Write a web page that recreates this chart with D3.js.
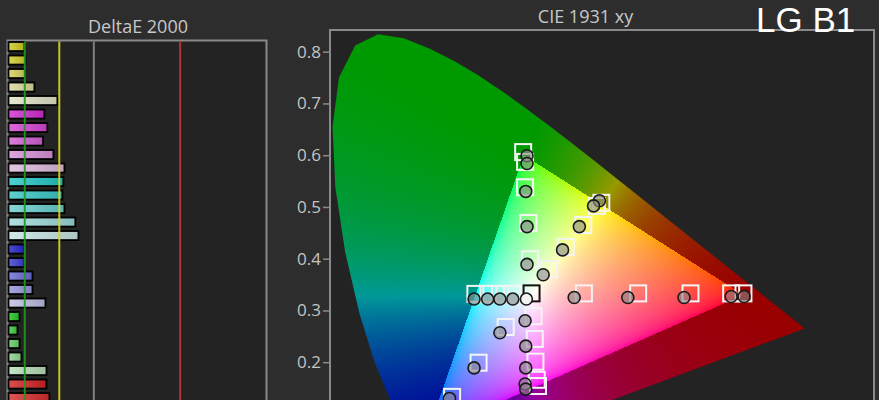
<!DOCTYPE html>
<html><head><meta charset="utf-8">
<script src="https://cdn.jsdelivr.net/npm/d3@7"></script>
<style>html,body{margin:0;padding:0;background:#2d2d2d;overflow:hidden}</style>
</head><body>
<svg id="chart" width="879" height="400"></svg>
<script>
// ---------------- DATA ----------------
// DeltaE 2000 panel (saturation sweeps, top to bottom)
const deCategories = ["Y1","Y2","Y3","Y4","Y5","M1","M2","M3","M4","M5","C1","C2","C3","C4","C5","B1","B2","B3","B4","B5","G1","G2","G3","G4","G5","R1","R2"];
const deValues = [0.92,0.98,0.95,1.5,2.83,2.08,2.25,2.0,2.6,3.24,3.18,3.12,3.24,3.87,4.05,0.92,0.92,1.39,1.39,2.14,0.64,0.52,0.64,0.75,2.2,2.2,2.37];
const deColors = ["#cfc81e","#d2cc2c","#d6d25a","#dcd89c","#e2e2c8",
                  "#d22ad2","#d444d4","#d35ed3","#d890d8","#ddb8dd",
                  "#22c4c4","#38c6c6","#66cccc","#9cd8d8","#c6e2e2",
                  "#2424c8","#3c3cd0","#6a6ad6","#9494dc","#bcbce2",
                  "#22c422","#3cc83c","#66ce66","#8ed48e","#b6dcb6",
                  "#d22222","#d42c2c"];
const deThresholds = [1,3,5,10];
const deThresholdColors = ["#1f9a1f","#d8d626","#8a8a8a","#c03434"];

// CIE 1931 xy panel
const yTicks = [0.2,0.3,0.4,0.5,0.6,0.7,0.8];
const locus = [[0.1741,0.0050],[0.1740,0.0050],[0.1738,0.0049],[0.1736,0.0049],[0.1733,0.0048],[0.1730,0.0048],[0.1726,0.0048],[0.1721,0.0048],[0.1714,0.0051],[0.1703,0.0058],[0.1689,0.0069],[0.1669,0.0086],[0.1644,0.0109],[0.1611,0.0138],[0.1566,0.0177],[0.1510,0.0227],[0.1440,0.0297],[0.1355,0.0399],[0.1241,0.0578],[0.1096,0.0868],[0.0913,0.1327],[0.0687,0.2007],[0.0454,0.2950],[0.0235,0.4127],[0.0082,0.5384],[0.0039,0.6548],[0.0139,0.7502],[0.0389,0.8120],[0.0743,0.8338],[0.1142,0.8262],[0.1547,0.8059],[0.1929,0.7816],[0.2296,0.7543],[0.2658,0.7243],[0.3016,0.6923],[0.3373,0.6589],[0.3731,0.6245],[0.4087,0.5896],[0.4441,0.5547],[0.4788,0.5202],[0.5125,0.4866],[0.5448,0.4544],[0.5752,0.4242],[0.6029,0.3965],[0.6270,0.3725],[0.6482,0.3514],[0.6658,0.3340],[0.6801,0.3197],[0.6915,0.3083],[0.7006,0.2993],[0.7079,0.2920],[0.7140,0.2859],[0.7190,0.2809],[0.7230,0.2770],[0.7260,0.2740],[0.7283,0.2717],[0.7300,0.2700],[0.7311,0.2689],[0.7320,0.2680],[0.7327,0.2673],[0.7334,0.2666],[0.7347,0.2653]];

const redTarget     = [[0.393,0.333],[0.477,0.333],[0.558,0.333],[0.621,0.333],[0.640,0.333]];
const redMeasured   = [[0.378,0.325],[0.461,0.325],[0.548,0.325],[0.621,0.327],[0.641,0.327]];
const greenTarget   = [[0.299,0.606],[0.302,0.587],[0.302,0.538],[0.307,0.469],[0.310,0.399]];
const greenMeasured = [[0.305,0.599],[0.305,0.584],[0.303,0.530],[0.305,0.462],[0.305,0.389]];
const yellowTarget  = [[0.420,0.508],[0.413,0.502],[0.392,0.465],[0.365,0.423],[0.339,0.380]];
const yellowMeasured= [[0.417,0.512],[0.408,0.502],[0.386,0.462],[0.360,0.417],[0.330,0.369]];
const cyanTarget    = [[0.225,0.332],[0.245,0.332],[0.263,0.332],[0.282,0.332]];
const cyanMeasured  = [[0.223,0.322],[0.244,0.322],[0.263,0.322],[0.283,0.322]];
const blueTarget    = [[0.272,0.268],[0.230,0.199],[0.189,0.133]];
const blueMeasured  = [[0.263,0.257],[0.223,0.189],[0.185,0.130]];
const magentaTarget = [[0.315,0.289],[0.317,0.245],[0.318,0.201],[0.320,0.166],[0.322,0.154]];
const magentaMeasured=[[0.302,0.280],[0.303,0.231],[0.303,0.189],[0.302,0.158],[0.303,0.148]];
const whiteTarget   = [[0.312,0.333]];
const whiteMeasured = [[0.304,0.322]];

// ---------------- DRAW ----------------
const W = 879, H = 400;
const svg = d3.select("#chart");
svg.append("rect").attr("width", W).attr("height", H).attr("fill", "#2d2d2d");
const defs = svg.append("defs");
const FONT = "'Open Sans', 'DejaVu Sans', sans-serif";

// ---- DeltaE panel ----
const dx = d3.scaleLinear().domain([0, 15]).range([7.5, 266.5]);
const dy = d3.scaleBand().domain(deCategories)
  .range([39.8, 39.8 + deCategories.length * 13.5]).paddingInner(0.33).paddingOuter(0.165);

svg.append("rect").attr("x", dx(0)).attr("y", 40.5).attr("width", dx(15) - dx(0)).attr("height", 420)
  .attr("fill", "#232323").attr("stroke", "#8a8a8a").attr("stroke-width", 2);

svg.append("text").attr("x", 138).attr("y", 32.5).attr("text-anchor", "middle")
  .attr("font-family", FONT).attr("font-size", 18).attr("fill", "#c8c8c8").text("DeltaE 2000");

deCategories.forEach((c, i) => {
  const g = defs.append("linearGradient").attr("id", "bg" + i);
  g.append("stop").attr("offset", "0%").attr("stop-color", d3.interpolateRgb(deColors[i], "#ffffff")(0.2));
  g.append("stop").attr("offset", "100%").attr("stop-color", d3.color(deColors[i]).darker(0.4));
});

svg.append("g").selectAll("rect").data(deCategories).join("rect")
  .attr("x", dx(0) + 1)
  .attr("y", d => dy(d))
  .attr("width", (d, i) => dx(deValues[i]) - dx(0))
  .attr("height", dy.bandwidth())
  .attr("fill", (d, i) => `url(#bg${i})`)
  .attr("stroke", "#000").attr("stroke-width", 1.8);

svg.append("g").selectAll("line").data(deThresholds).join("line")
  .attr("x1", d => dx(d)).attr("x2", d => dx(d))
  .attr("y1", 41.5).attr("y2", H)
  .attr("stroke", (d, i) => deThresholdColors[i]).attr("stroke-width", 2)
  .attr("stroke-opacity", 0.9);

// ---- CIE panel ----
const cx = d3.scaleLinear().domain([0, 0.8421]).range([330, 874]);
const cy = d3.scaleLinear().domain([0, 0.8]).range([465.7, 51.7]);

svg.append("rect").attr("x", 330).attr("y", 30).attr("width", 544).attr("height", 420)
  .attr("fill", "#232323").attr("stroke", "#8a8a8a").attr("stroke-width", 2);

svg.append("text").attr("x", 585.5).attr("y", 22.5).attr("text-anchor", "middle")
  .attr("font-family", FONT).attr("font-size", 18).attr("fill", "#c8c8c8").text("CIE 1931 xy");

// chromaticity background rendered on canvas, positioned by the scales
const px0 = 331, py0 = 31, cw = 542, ch = H - py0;
const canvas = document.createElement("canvas");
canvas.width = cw; canvas.height = ch;
const ctx = canvas.getContext("2d");
const img = ctx.createImageData(cw, ch);
const gam = v => v <= 0.0031308 ? 12.92 * v : 1.055 * Math.pow(v, 1 / 2.4) - 0.055;
for (let j = 0; j < ch; j++) {
  const y = cy.invert(py0 + j + 0.5);
  for (let i = 0; i < cw; i++) {
    const x = cx.invert(px0 + i + 0.5);
    const k = (j * cw + i) * 4;
    if (y <= 0.002) { img.data[k + 3] = 0; continue; }
    const X = x / y, Y = 1, Z = (1 - x - y) / y;
    let r = 3.2406 * X - 1.5372 * Y - 0.4986 * Z;
    let g = -0.9689 * X + 1.8758 * Y + 0.0415 * Z;
    let b = 0.0557 * X - 0.2040 * Y + 1.0570 * Z;
    const inside = r >= 0 && g >= 0 && b >= 0;
    r = Math.max(r, 0); g = Math.max(g, 0); b = Math.max(b, 0);
    const m = Math.max(r, g, b) || 1;
    r /= m; g /= m; b /= m;
    if (inside) {
      img.data[k] = 255 * gam(r);
      img.data[k + 1] = 255 * gam(g);
      img.data[k + 2] = 255 * gam(b);
    } else {
      const f = 0.6;
      img.data[k] = 255 * Math.pow(r, 1.15) * f;
      img.data[k + 1] = 255 * Math.pow(g, 1.15) * f;
      img.data[k + 2] = 255 * Math.pow(b, 1.15) * f;
    }
    img.data[k + 3] = 255;
  }
}
ctx.putImageData(img, 0, 0);

const locusLine = d3.line().x(d => cx(d[0])).y(d => cy(d[1]));
defs.append("clipPath").attr("id", "locusClip")
  .append("path").attr("d", locusLine(locus) + "Z");
defs.append("clipPath").attr("id", "cieClip")
  .append("rect").attr("x", 331).attr("y", 31).attr("width", 542).attr("height", 420);

const cie = svg.append("g").attr("clip-path", "url(#cieClip)");
cie.append("image").attr("x", px0).attr("y", py0).attr("width", cw).attr("height", ch)
  .attr("href", canvas.toDataURL()).attr("clip-path", "url(#locusClip)")
  .attr("preserveAspectRatio", "none");

// axis
const yAxis = d3.axisLeft(cy).tickValues(yTicks).tickSize(7).tickPadding(2).tickFormat(d3.format(".1f"));
const ax = svg.append("g").attr("transform", "translate(330,0)").call(yAxis);
ax.select(".domain").remove();
ax.selectAll("line").attr("stroke", "#8a8a8a").attr("stroke-width", 1.5);
ax.selectAll("text").attr("fill", "#c4c4c4").attr("font-family", FONT).attr("font-size", 17);

// targets & measurements
const SQ = 16;
const targets = [].concat(redTarget, greenTarget, yellowTarget, cyanTarget, blueTarget, magentaTarget);
const measured = [].concat(redMeasured, greenMeasured, yellowMeasured, cyanMeasured, blueMeasured, magentaMeasured);

cie.append("g").selectAll("rect").data(whiteTarget).join("rect")
  .attr("x", d => cx(d[0]) - SQ / 2).attr("y", d => cy(d[1]) - SQ / 2)
  .attr("width", SQ).attr("height", SQ)
  .attr("fill", "none").attr("stroke", "#111").attr("stroke-width", 2);

cie.append("g").selectAll("rect").data(targets).join("rect")
  .attr("x", d => cx(d[0]) - SQ / 2).attr("y", d => cy(d[1]) - SQ / 2)
  .attr("width", SQ).attr("height", SQ)
  .attr("fill", "none").attr("stroke", "#f4f4f4").attr("stroke-width", 2);

cie.append("g").selectAll("circle").data(measured).join("circle")
  .attr("cx", d => cx(d[0])).attr("cy", d => cy(d[1])).attr("r", 6)
  .attr("fill", "rgb(135,135,135)").attr("fill-opacity", 0.6)
  .attr("stroke", "#1a1a1a").attr("stroke-width", 1.6);

cie.append("g").selectAll("circle").data(whiteMeasured).join("circle")
  .attr("cx", d => cx(d[0])).attr("cy", d => cy(d[1])).attr("r", 6)
  .attr("fill", "#f2f2f2").attr("stroke", "#1a1a1a").attr("stroke-width", 1.6);

// label
svg.append("text").attr("x", 756).attr("y", 32)
  .attr("font-family", "'Liberation Sans', Arial, sans-serif").attr("font-size", 35)
  .attr("fill", "#ffffff").text("LG B1");
</script>
</body></html>
